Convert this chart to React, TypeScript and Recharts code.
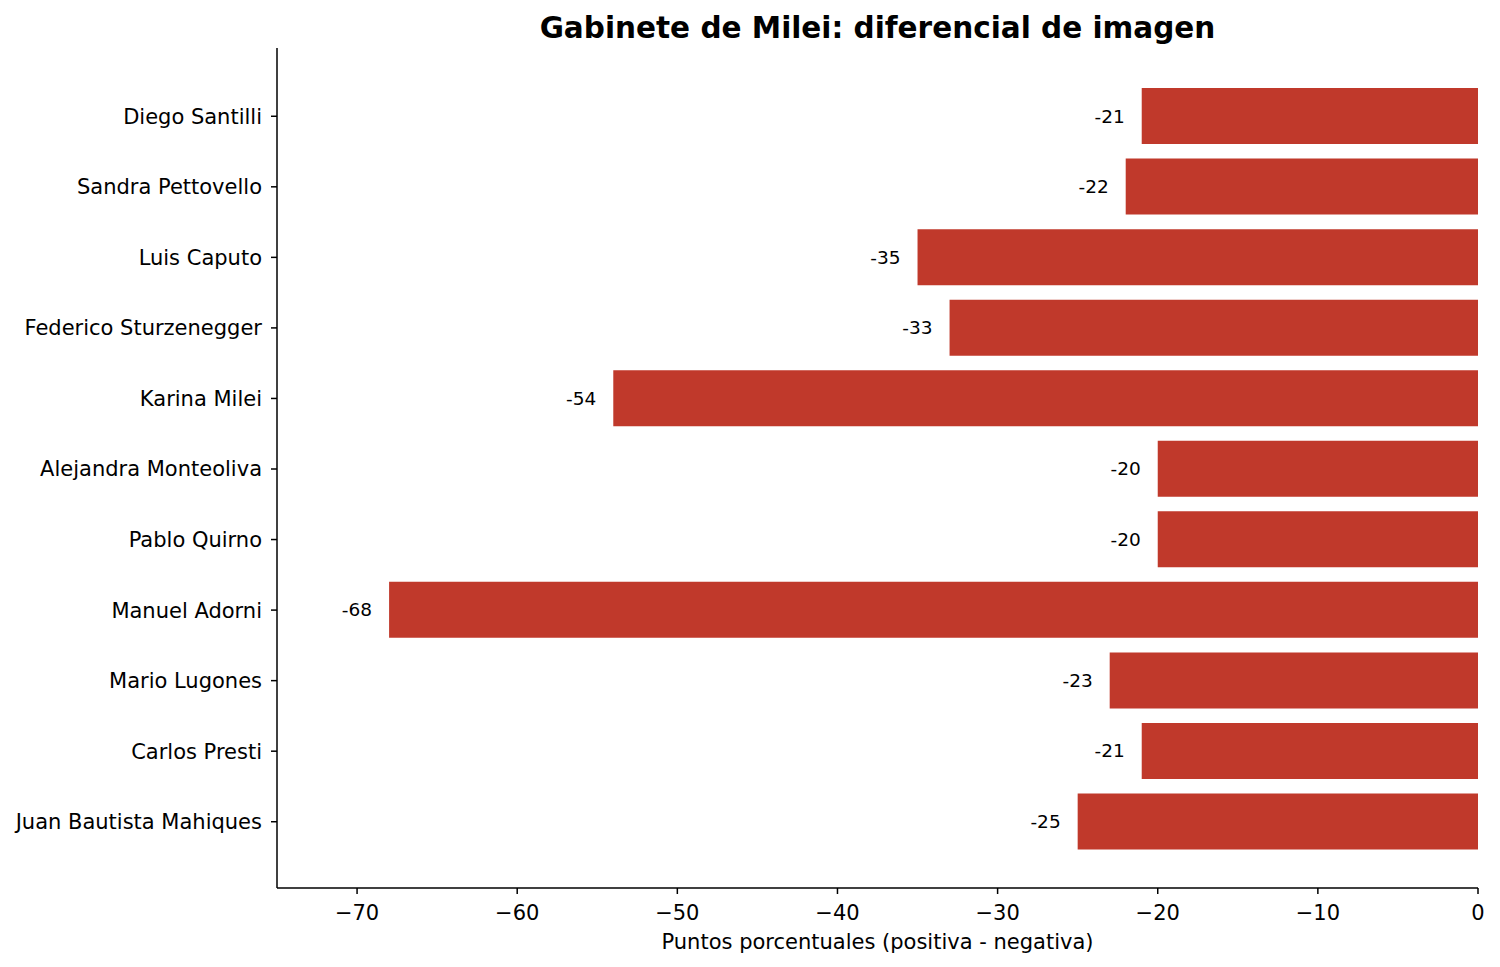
import React from 'react';
import { BarChart, Bar, XAxis, YAxis, LabelList } from 'recharts';

const nombres = [
  'Diego Santilli',
  'Sandra Pettovello',
  'Luis Caputo',
  'Federico Sturzenegger',
  'Karina Milei',
  'Alejandra Monteoliva',
  'Pablo Quirno',
  'Manuel Adorni',
  'Mario Lugones',
  'Carlos Presti',
  'Juan Bautista Mahiques',
];

const diferencial = [-21, -22, -35, -33, -54, -20, -20, -68, -23, -21, -25];

const xTicks = [-70, -60, -50, -40, -30, -20, -10, 0];

const data = nombres.map((nombre, i) => ({ nombre, valor: diferencial[i] }));

const FONT = 'DejaVu Sans, sans-serif';

// etiqueta a la izquierda del extremo de la barra
const EtiquetaValor = (props: any) => {
  const { x, y, width, height, value } = props;
  const izq = Math.min(Number(x), Number(x) + Number(width));
  return (
    <text
      x={izq - 17}
      y={Number(y) + Number(height) / 2}
      textAnchor="end"
      dominantBaseline="central"
      fill="#000"
      fontSize={18.5}
      fontFamily={FONT}
    >
      {value}
    </text>
  );
};

export default function App() {
  return (
    <div style={{ position: 'absolute', left: 0, top: 0, width: 1500, height: 967, fontFamily: FONT, background: '#fff' }}>
      <div
        style={{
          position: 'absolute',
          left: 277,
          width: 1201,
          top: 11,
          textAlign: 'center',
          fontSize: 29.5,
          fontWeight: 'bold',
          color: '#000',
        }}
      >
        Gabinete de Milei: diferencial de imagen
      </div>
      <BarChart
        width={1500}
        height={967}
        data={data}
        layout="vertical"
        barCategoryGap="10%"
        margin={{ top: 48, right: 22, bottom: 19, left: 0 }}
      >
        <XAxis
          type="number"
          domain={[-75, 0]}
          ticks={xTicks}
          allowDataOverflow
          height={60}
          tickSize={6}
          tickMargin={11}
          stroke="#000"
          strokeWidth={1.5}
          tick={{ fill: '#000', fontSize: 21, fontFamily: FONT }}
          tickFormatter={(v: number) => String(v).replace('-', '\u2212')}
          label={{
            value: 'Puntos porcentuales (positiva - negativa)',
            position: 'insideBottom',
            offset: -1,
            fill: '#000',
            fontSize: 21,
            fontFamily: FONT,
          }}
        />
        <YAxis
          type="category"
          dataKey="nombre"
          width={277}
          padding={{ top: 33, bottom: 31 }}
          tickSize={6}
          tickMargin={9}
          stroke="#000"
          strokeWidth={1.5}
          interval={0}
          tick={{ fill: '#000', fontSize: 21, fontFamily: FONT }}
        />
        <Bar dataKey="valor" fill="#C0392B" isAnimationActive={false}>
          <LabelList dataKey="valor" content={EtiquetaValor} />
        </Bar>
      </BarChart>
    </div>
  );
}
